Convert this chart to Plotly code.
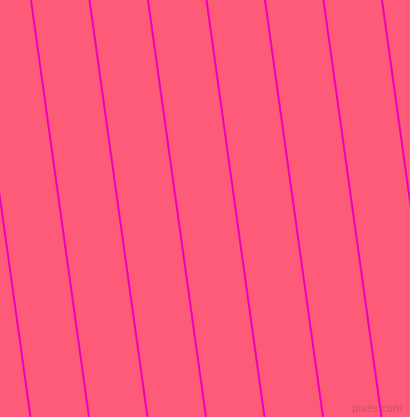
import plotly.graph_objects as go

# Stripe positions (x where each line meets the top and the bottom edge)
top_x = [-27.5, 31, 89.5, 148, 206.5, 265, 323.5, 382, 440.5]
bottom_x = [30.5, 89, 147.5, 206, 264.5, 323, 381.5, 440, 498.5]
edge_y = [0, 417]

bg_color = "#FD5B78"
line_color = "#F000B8"

fig = go.Figure()
for t, b in zip(top_x, bottom_x):
    fig.add_trace(go.Scatter(
        x=[t, b], y=edge_y, mode="lines",
        line=dict(color=line_color, width=2),
        hoverinfo="skip", showlegend=False,
    ))

fig.add_annotation(
    x=404, y=408, xref="x", yref="y", text="pixlis.com", showarrow=False,
    xanchor="right", yanchor="middle",
    font=dict(family="DejaVu Sans", size=10, color="rgba(150,70,90,0.5)"),
)

fig.update_layout(
    width=410, height=417,
    margin=dict(l=0, r=0, t=0, b=0),
    paper_bgcolor=bg_color, plot_bgcolor=bg_color,
    xaxis=dict(range=[0, 410], visible=False, fixedrange=True),
    yaxis=dict(range=[417, 0], visible=False, fixedrange=True),
    showlegend=False,
)
fig.write_html(
    "out.html",
    config={"displayModeBar": False},
    post_script="document.body.style.margin='0';document.body.style.padding='0';document.body.style.overflow='hidden';",
)
